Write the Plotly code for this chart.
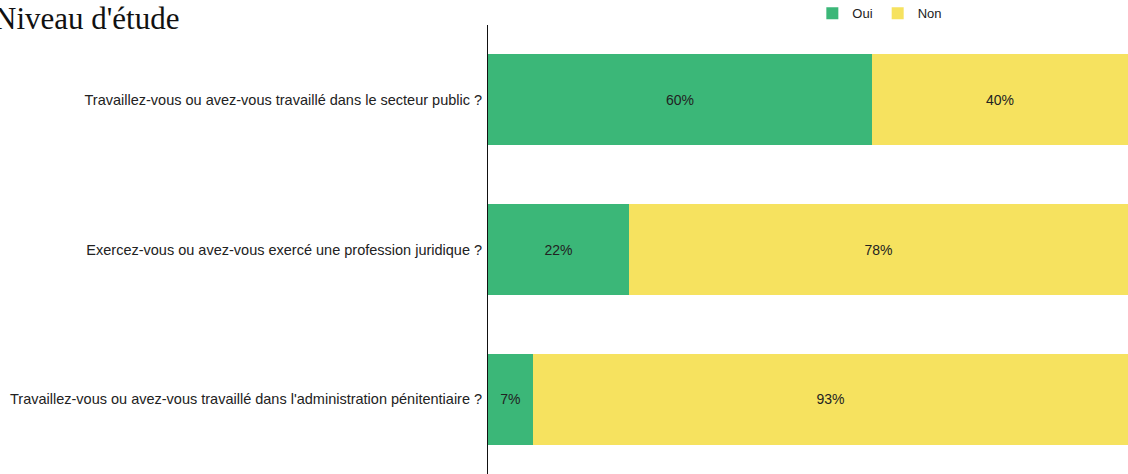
import plotly.graph_objects as go

questions = [
    "Travaillez-vous ou avez-vous travaillé dans le secteur public ?",
    "Exercez-vous ou avez-vous exercé une profession juridique ?",
    "Travaillez-vous ou avez-vous travaillé dans l'administration pénitentiaire ?",
]
oui = [60, 22, 7]
non = [40, 78, 93]
series_names = ["Oui", "Non"]
colors = ["#3bb778", "#f6e25f"]

fig = go.Figure()
for name, vals, col in zip(series_names, [oui, non], colors):
    fig.add_trace(go.Bar(
        y=questions, x=vals, name=name, orientation="h",
        marker=dict(color=col, line=dict(width=0)),
        text=[f"{v}%" for v in vals], textposition="inside",
        insidetextanchor="middle",
        textfont=dict(family="Liberation Sans, Arial, sans-serif", size=14, color="#222222"),
        hoverinfo="skip",
    ))

fig.update_layout(
    barmode="stack",
    bargap=0.39,
    width=1128, height=474,
    autosize=False,
    margin=dict(l=488, r=0, t=25, b=0, autoexpand=False),
    paper_bgcolor="white", plot_bgcolor="white",
    font=dict(family="Liberation Sans, Arial, sans-serif", size=14, color="#222222"),
    showlegend=True,
    legend=dict(orientation="h", xref="container", yref="container",
                x=0.78, xanchor="center", y=0.972, yanchor="middle",
                font=dict(size=13, color="#222222"), traceorder="normal"),
    uniformtext=dict(mode="show", minsize=8),
)
fig.update_xaxes(range=[0, 100], visible=False, showgrid=False, zeroline=False)
fig.update_yaxes(autorange="reversed", showgrid=False, zeroline=False,
                 showline=True, linecolor="#111111", linewidth=1,
                 ticks="", ticklabelstandoff=2, automargin=False,
                 tickfont=dict(size=14.5, color="#222222"))
fig.add_annotation(text="Niveau d'étude", xref="paper", yref="paper",
                   x=-0.775, y=1.058, xanchor="left", yanchor="top", showarrow=False,
                   font=dict(family="Liberation Serif, Times New Roman, serif", size=31, color="#111111"))

post = ("document.body.style.margin='0';document.body.style.overflow='hidden';"
        "var gd=document.getElementById('{plot_id}');"
        "Plotly.relayout(gd,{width:1128,height:474});")
fig.write_html("out.html", post_script=post, config={"displayModeBar": False})
